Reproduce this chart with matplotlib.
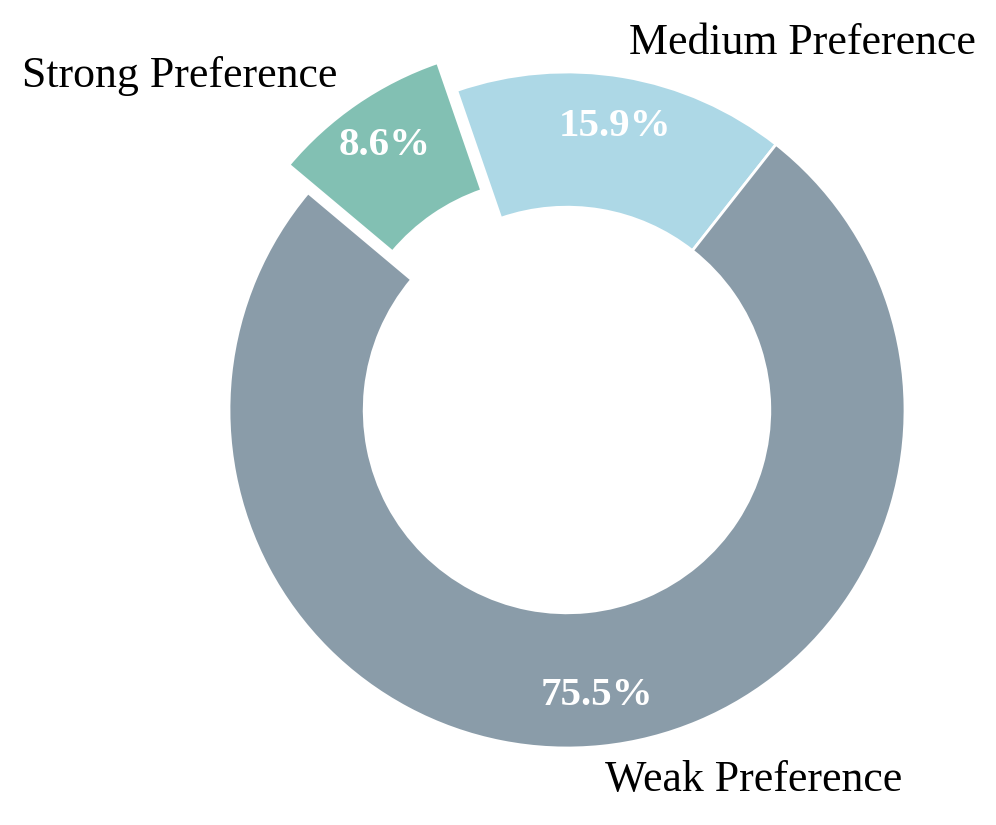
import matplotlib.pyplot as plt

plt.rcParams['font.family'] = ['Liberation Serif', 'DejaVu Serif']

# Datos del grafico
labels = ['Strong Preference', 'Medium Preference', 'Weak Preference']
values = [8.6, 15.9, 75.5]
colors = ['#82C0B3', '#ADD8E6', '#8A9CA9']
explode = [0.1, 0, 0]

fig = plt.figure(figsize=(9.96, 8.25), dpi=100)
ax = fig.add_axes([0, 0, 1, 1])

wedges, texts, autotexts = ax.pie(
    values, labels=labels, colors=colors, explode=explode,
    startangle=140, counterclock=False, autopct='%1.1f%%',
    pctdistance=0.85, labeldistance=1.1,
    wedgeprops=dict(width=0.4, edgecolor='white', linewidth=2),
    textprops=dict(fontsize=31.6, color='black'))

for t in autotexts:
    t.set_color('white')
    t.set_fontweight('bold')
    t.set_fontsize(29.5)

# centro en (567, 410) px, radio 338 px
scale = 338
ax.set_xlim(-567 / scale, (996 - 567) / scale)
ax.set_ylim(-(825 - 410) / scale, 410 / scale)
ax.set_aspect('auto')
ax.axis('off')

fig.savefig('out.png', dpi=100)
